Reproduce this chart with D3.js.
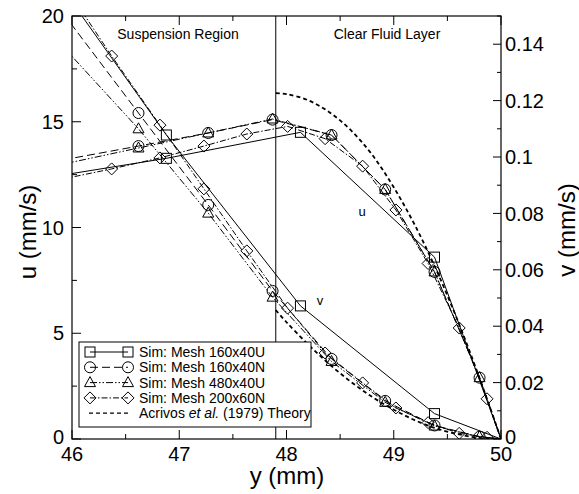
<!DOCTYPE html>
<html><head><meta charset="utf-8">
<script src="https://cdn.jsdelivr.net/npm/d3@7"></script>
<style>body{margin:0;background:#fff}svg{display:block;font-family:"Liberation Sans",Arial,sans-serif}</style>
</head><body>
<svg id="c" width="579" height="494"></svg>
<script>
// ---- data ----
const xU160 = [45.63, 46.88, 48.13, 49.38, 50];
const uU160 = [12.25, 13.27, 14.5, 8.6, 0];
const vU160 = [0.1748, 0.1078, 0.0472, 0.0090, 0];

const xN160 = [45.92, 46.62, 47.27, 47.87, 48.42, 48.92, 49.38, 49.80, 50];
const uN160 = [13.2, 13.85, 14.47, 15.1, 14.37, 11.8, 7.9, 2.9, 0];
const vN160 = [0.1508, 0.1156, 0.0830, 0.0525, 0.0284, 0.0135, 0.0048, 0.0008, 0];

const xU480 = [45.92, 46.62, 47.27, 47.87, 48.42, 48.92, 49.38, 49.80, 50];
const uU480 = [13.0, 13.76, 14.47, 15.13, 14.37, 11.8, 7.9, 2.9, 0];
const vU480 = [0.139, 0.110, 0.0801, 0.0503, 0.0275, 0.0130, 0.0046, 0.0008, 0];

const xN200 = [45.92, 46.37, 46.82, 47.23, 47.63, 48.01, 48.36, 48.71, 49.02, 49.32, 49.61, 49.87, 50];
const uN200 = [12.3, 12.77, 13.29, 13.85, 14.42, 14.78, 14.2, 12.9, 10.83, 8.3, 5.25, 1.9, 0];
const vN200 = [0.1615, 0.1358, 0.1113, 0.0887, 0.0667, 0.0464, 0.0305, 0.0199, 0.0110, 0.0058, 0.0020, 0.0006, 0];

const xTheory = [47.9, 48.0, 48.2, 48.4, 48.6, 48.8, 49.0, 49.2, 49.4, 49.6, 49.8, 50.0];
const uTheory = [16.35, 16.31, 16.02, 15.45, 14.60, 13.43, 11.9, 10.08, 7.96, 5.55, 2.88, 0];
const vTheory = [0.0457, 0.0414, 0.0336, 0.0265, 0.0203, 0.0149, 0.0104, 0.0066, 0.0037, 0.0017, 0.0004, 0];

const xTicks = [46, 47, 48, 49, 50];
const uTicks = [0, 5, 10, 15, 20];
const vTicks = [0, 0.02, 0.04, 0.06, 0.08, 0.1, 0.12, 0.14];
const regionLine = 47.9;

const seriesNames = ["Sim: Mesh 160x40U", "Sim: Mesh 160x40N", "Sim: Mesh 480x40U", "Sim: Mesh 200x60N"];

// ---- layout ----
const L = 72, R = 501, T = 16, B = 439;
const svg = d3.select("#c");
const x = d3.scaleLinear().domain([46, 50]).range([L, R]);
const yu = d3.scaleLinear().domain([0, 20]).range([B, T]);
const yv = d3.scaleLinear().domain([0, 0.15]).range([B, T]);

svg.append("defs").append("clipPath").attr("id", "clip")
  .append("rect").attr("x", L).attr("y", T).attr("width", R - L).attr("height", B - T);

const styles = [
  {dash: null, marker: "square"},
  {dash: "8,4", marker: "circle"},
  {dash: "7,2,1.5,2,1.5,2", marker: "triangle"},
  {dash: "6,2,1.5,2", marker: "diamond"}
];
const sims = [
  {xs: xU160, u: uU160, v: vU160},
  {xs: xN160, u: uN160, v: vN160},
  {xs: xU480, u: uU480, v: vU480},
  {xs: xN200, u: uN200, v: vN200}
];

function drawMarker(g, type, cx, cy) {
  let el;
  if (type === "square") el = g.append("rect").attr("x", cx - 5).attr("y", cy - 5).attr("width", 10).attr("height", 10);
  else if (type === "circle") el = g.append("circle").attr("cx", cx).attr("cy", cy).attr("r", 5.5);
  else if (type === "triangle") el = g.append("path").attr("d", `M${cx},${cy - 6}L${cx + 5.5},${cy + 4}L${cx - 5.5},${cy + 4}Z`);
  else el = g.append("path").attr("d", `M${cx},${cy - 6}L${cx + 6},${cy}L${cx},${cy + 6}L${cx - 6},${cy}Z`);
  el.attr("fill", "none").attr("stroke", "#000").attr("stroke-width", 1);
}

const plot = svg.append("g").attr("clip-path", "url(#clip)");

// region divider
plot.append("line").attr("x1", x(regionLine)).attr("x2", x(regionLine)).attr("y1", T).attr("y2", B)
  .attr("stroke", "#000").attr("stroke-width", 1);

// theory
const theoryLine = (ys) => d3.line().x((d, i) => x(xTheory[i])).y((d) => ys(d)).curve(d3.curveCatmullRom);
plot.append("path").attr("d", theoryLine(yu)(uTheory)).attr("fill", "none").attr("stroke", "#000")
  .attr("stroke-width", 1.8).attr("stroke-dasharray", "4,3");
plot.append("path").attr("d", theoryLine(yv)(vTheory)).attr("fill", "none").attr("stroke", "#000")
  .attr("stroke-width", 1.8).attr("stroke-dasharray", "4,3");

sims.forEach((s, k) => {
  const st = styles[k];
  [[s.u, yu], [s.v, yv]].forEach(([vals, sc]) => {
    const line = d3.line().x((d, i) => x(s.xs[i])).y(d => sc(d));
    const p = plot.append("path").attr("d", line(vals)).attr("fill", "none").attr("stroke", "#000").attr("stroke-width", 1);
    if (st.dash) p.attr("stroke-dasharray", st.dash);
    vals.forEach((d, i) => {
      if (s.xs[i] < 46 || s.xs[i] >= 50) return;
      drawMarker(plot, st.marker, x(s.xs[i]), sc(d));
    });
  });
});

// frame
svg.append("rect").attr("x", L).attr("y", T).attr("width", R - L).attr("height", B - T)
  .attr("fill", "none").attr("stroke", "#000").attr("stroke-width", 1.2);

// ticks
const tk = svg.append("g").attr("stroke", "#000").attr("stroke-width", 1);
d3.range(46, 50.01, 0.5).forEach(v => {
  const major = Math.abs(v - Math.round(v)) < 1e-6;
  const len = major ? 9 : 5;
  tk.append("line").attr("x1", x(v)).attr("x2", x(v)).attr("y1", B).attr("y2", B - len);
  tk.append("line").attr("x1", x(v)).attr("x2", x(v)).attr("y1", T).attr("y2", T + len);
});
d3.range(0, 20.01, 2.5).forEach(v => {
  const major = Math.abs(v % 5) < 1e-6;
  tk.append("line").attr("x1", L).attr("x2", L + (major ? 9 : 5)).attr("y1", yu(v)).attr("y2", yu(v));
});
d3.range(0, 0.1501, 0.01).forEach(v => {
  const k = Math.round(v * 100);
  const major = k % 2 === 0;
  tk.append("line").attr("x1", R).attr("x2", R - (major ? 8 : 4)).attr("y1", yv(v)).attr("y2", yv(v));
});

// tick labels
const lab = svg.append("g").attr("font-size", 20).attr("fill", "#000");
xTicks.forEach(v => lab.append("text").attr("x", x(v)).attr("y", 461).attr("text-anchor", "middle").text(v));
uTicks.forEach(v => lab.append("text").attr("x", 64).attr("y", yu(v) - (v === 0 ? 2 : 0)).attr("dy", "0.36em").attr("text-anchor", "end").text(v));
vTicks.forEach(v => lab.append("text").attr("x", 505).attr("y", yv(v) - (v === 0 ? 2 : 0)).attr("dy", "0.36em").attr("text-anchor", "start").text(v));

// axis titles
svg.append("text").attr("x", 287).attr("y", 484).attr("text-anchor", "middle").attr("font-size", 24).attr("fill", "#000").text("y (mm)");
svg.append("text").attr("transform", "translate(36,232) rotate(-90)").attr("text-anchor", "middle").attr("font-size", 24).attr("fill", "#000").text("u (mm/s)");
svg.append("text").attr("transform", "translate(575,230) rotate(-90)").attr("text-anchor", "middle").attr("font-size", 24).attr("fill", "#000").text("v (mm/s)");

// region labels
svg.append("text").attr("x", 178).attr("y", 39).attr("text-anchor", "middle").attr("font-size", 14).attr("fill", "#000").text("Suspension Region");
svg.append("text").attr("x", 387).attr("y", 39).attr("text-anchor", "middle").attr("font-size", 14).attr("fill", "#000").text("Clear Fluid Layer");
svg.append("text").attr("x", 362).attr("y", 216).attr("text-anchor", "middle").attr("font-size", 13).attr("fill", "#000").text("u");
svg.append("text").attr("x", 320).attr("y", 305).attr("text-anchor", "middle").attr("font-size", 13).attr("fill", "#000").text("v");

// legend
const lg = svg.append("g");
lg.append("rect").attr("x", 79).attr("y", 342).attr("width", 232).attr("height", 85)
  .attr("fill", "#fff").attr("stroke", "#000").attr("stroke-width", 1);
const rowY = (i) => 352 + i * 15.3;
seriesNames.forEach((name, i) => {
  const st = styles[i];
  const l = lg.append("line").attr("x1", 90).attr("x2", 128).attr("y1", rowY(i)).attr("y2", rowY(i))
    .attr("stroke", "#000").attr("stroke-width", 1);
  if (st.dash) l.attr("stroke-dasharray", st.dash);
  drawMarker(lg, st.marker, 90, rowY(i));
  drawMarker(lg, st.marker, 128, rowY(i));
  lg.append("text").attr("x", 139).attr("y", rowY(i)).attr("dy", "0.36em").attr("font-size", 14).attr("fill", "#000").text(name);
});
lg.append("line").attr("x1", 89).attr("x2", 129).attr("y1", rowY(4)).attr("y2", rowY(4))
  .attr("stroke", "#000").attr("stroke-width", 1.2).attr("stroke-dasharray", "4,3");
const tt = lg.append("text").attr("x", 139).attr("y", rowY(4)).attr("dy", "0.36em").attr("font-size", 14).attr("fill", "#000");
tt.append("tspan").text("Acrivos ");
tt.append("tspan").attr("font-style", "italic").text("et al.");
tt.append("tspan").text(" (1979) Theory");
</script>
</body></html>
